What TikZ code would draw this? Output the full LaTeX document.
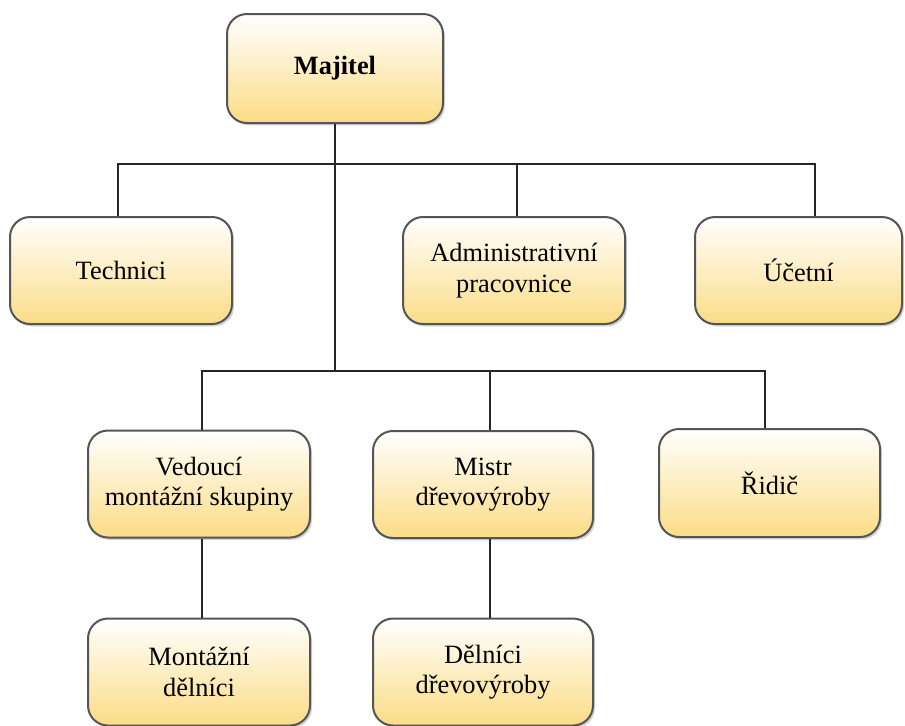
\documentclass[tikz,border=0pt]{standalone}
\usepackage{fontspec}
\setmainfont{Liberation Serif}
\usetikzlibrary{shadows}

\begin{document}
\begin{tikzpicture}[
  x=0.5pt,y=-0.5pt,
  font=\fontsize{13.2}{15.2}\selectfont,
  box/.style={draw=boxedge,line width=1pt,rounded corners=10pt,
    top color=white,bottom color=boxgold,
    drop shadow={shadow xshift=1pt,shadow yshift=-1.2pt,opacity=0.35},
    minimum width=#1*0.5pt,minimum height=53.5pt,align=center,inner sep=0pt},
  box/.default=222,
  conn/.style={draw=black!85,line width=0.75pt}]

  \definecolor{boxgold}{RGB}{251,220,134}
  \definecolor{boxedge}{RGB}{85,85,85}

  \useasboundingbox (0,0) rectangle (905,725);

  % blocks
  \node[box=216,minimum height=54.5pt,font=\fontsize{13.2}{15.2}\selectfont\bfseries]
    (maj) at (335,68.5) {Majitel};

  \node[box] (tech) at (121,270.5) {Technici};
  \node[box] (admin) at (514,270.5) {Administrativní\\pracovnice};
  \node[box=207] (acct) at (798.5,270.5) {Účetní};

  \node[box] (lead) at (199,484) {Vedoucí\\montážní skupiny};
  \node[box=220] (mistr) at (483,484.5) {Mistr\\dřevovýroby};
  \node[box=221,minimum height=54pt] (drv) at (769.5,483) {Řidič};

  \node[box] (fitter) at (199,672) {Montážní\\dělníci};
  \node[box=220] (wood) at (483,672) {Dělníci\\dřevovýroby};

  % bus points
  \coordinate (busA) at (335,164);
  \coordinate (busB) at (335,371);

  % owner down to both buses
  \draw[conn] (maj.south) -- (busB);

  % upper level
  \draw[conn] ([xshift=-1.5pt]tech.north) |- (busA) -| ([xshift=8.2pt]acct.north);
  \draw[conn] ([xshift=1.5pt]admin.north) -- ([xshift=1.5pt]admin.north |- busA);

  % lower level
  \draw[conn] ([xshift=1.5pt]lead.north) |- (busB) -| ([xshift=-2.2pt]drv.north);
  \draw[conn] ([xshift=3.5pt]mistr.north) -- ([xshift=3.5pt]mistr.north |- busB);

  % workers
  \draw[conn] ([xshift=1.5pt]lead.south) -- ([xshift=1.5pt]fitter.north);
  \draw[conn] ([xshift=3.5pt]mistr.south) -- ([xshift=3.5pt]wood.north);
\end{tikzpicture}
\end{document}
